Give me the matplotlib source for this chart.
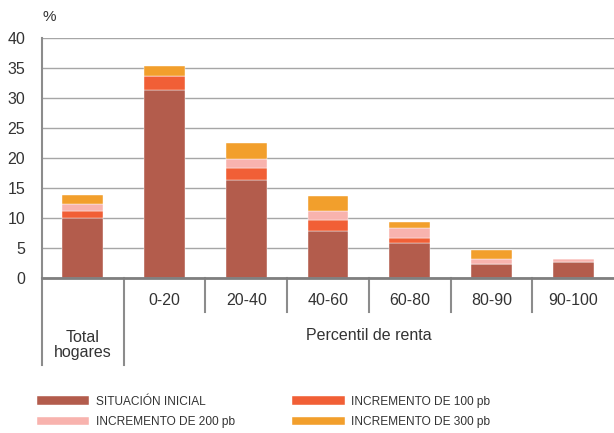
import matplotlib.pyplot as plt
import numpy as np

# Datos (puntos porcentuales, apilados)
categorias = ['Total\nhogares', '0-20', '20-40', '40-60', '60-80', '80-90', '90-100']
situacion_inicial = [10.0, 31.4, 16.3, 7.8, 5.9, 2.4, 2.6]
incremento_100 = [1.1, 2.3, 2.0, 1.9, 0.8, 0.0, 0.0]
incremento_200 = [1.2, 0.0, 1.6, 1.5, 1.7, 0.8, 0.5]
incremento_300 = [1.6, 1.6, 2.6, 2.5, 1.0, 1.4, 0.1]

series = [
    ('SITUACIÓN INICIAL', situacion_inicial, '#B35C4C'),
    ('INCREMENTO DE 100 pb', incremento_100, '#F15F36'),
    ('INCREMENTO DE 200 pb', incremento_200, '#F8B3AE'),
    ('INCREMENTO DE 300 pb', incremento_300, '#F29F2C'),
]

plt.rcParams['font.family'] = ['Liberation Sans', 'DejaVu Sans']
texto = '#333333'

fig = plt.figure(figsize=(6.14, 4.33), dpi=100)
ax = fig.add_axes([42 / 614, 1 - 278 / 433, 572 / 614, 240 / 433])

x = np.arange(len(categorias))
abajo = np.zeros(len(categorias))
barras = []
for nombre, valores, color in series:
    b = ax.bar(x, valores, width=0.5, bottom=abajo, color=color,
               edgecolor='white', linewidth=0.3, label=nombre, zorder=3)
    barras.append(b)
    abajo = abajo + np.array(valores)

ax.set_xlim(-0.5, len(categorias) - 0.5)
ax.set_ylim(0, 40)
ax.set_yticks(range(0, 41, 5))
ax.yaxis.grid(True, color='#A6A6A6', linewidth=1)
ax.set_axisbelow(True)
ax.tick_params(axis='y', length=0, pad=12, labelsize=11.5, labelcolor=texto)
ax.set_xticks([])
for lado in ['top', 'right']:
    ax.spines[lado].set_visible(False)
ax.spines['left'].set_color('#8C8C8C')
ax.spines['left'].set_linewidth(1.5)
ax.spines['bottom'].set_color('#7F7F7F')
ax.spines['bottom'].set_linewidth(2)
ax.spines['bottom'].set_zorder(4)

ax.text(-0.5, 1.06, '%', transform=ax.get_xaxis_transform(),
        fontsize=11, color=texto, va='bottom')

# Separadores de categorias bajo el eje
trans = ax.get_xaxis_transform()
ax.plot([-0.5, -0.5], [0, -0.362], color='#8C8C8C', lw=1.5,
        transform=trans, clip_on=False)
ax.plot([0.5, 0.5], [0, -0.362], color='#8C8C8C', lw=1.5,
        transform=trans, clip_on=False)
for i in range(1, len(categorias) - 1):
    ax.plot([i + 0.5, i + 0.5], [0, -0.142], color='#8C8C8C', lw=1.5,
            transform=trans, clip_on=False)

for i, etiqueta in enumerate(categorias):
    if i == 0:
        ax.text(i, -0.28, etiqueta, transform=trans, ha='center', va='center',
                fontsize=11.5, color=texto, linespacing=1.05)
    else:
        ax.text(i, -0.095, etiqueta, transform=trans, ha='center', va='center',
                fontsize=11.5, color=texto)
ax.text(3.5, -0.238, 'Percentil de renta', transform=trans, ha='center',
        va='center', fontsize=11.5, color=texto)

# Leyenda en dos columnas
orden = [barras[0], barras[2], barras[1], barras[3]]
leg = fig.legend(orden, [b.get_label() for b in orden], ncol=2,
                 loc='upper left', bbox_to_anchor=(26 / 614, 1 - 385 / 433),
                 frameon=False, handlelength=4.4,
                 handleheight=0.75, handletextpad=0.55, columnspacing=4.8,
                 labelspacing=0.7,
                 prop={'family': ['Liberation Sans Narrow', 'Liberation Sans'],
                       'size': 8.6})
for t in leg.get_texts():
    t.set_color(texto)

fig.savefig('out.png', dpi=100)
